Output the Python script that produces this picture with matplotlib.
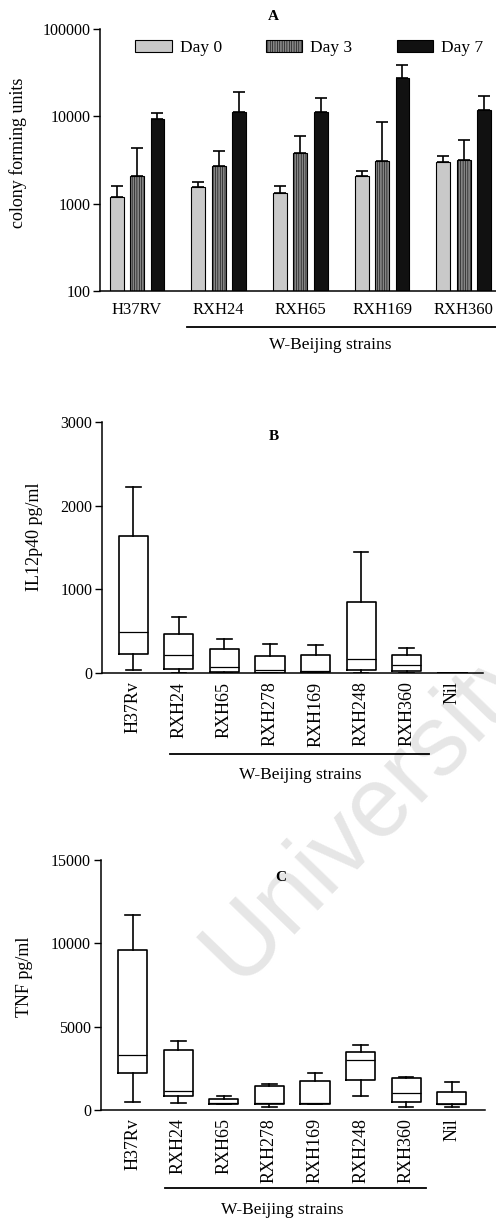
import numpy as np
import matplotlib
matplotlib.use('Agg')
import matplotlib.pyplot as plt
from matplotlib.lines import Line2D

plt.rcParams['font.family'] = 'Liberation Serif'
plt.rcParams['hatch.linewidth'] = 0.4
plt.rcParams['axes.linewidth'] = 1.1

# Panel A: colony forming units per strain, days 0/3/7 (mean, upper error)
strains_a = ['H37RV', 'RXH24', 'RXH65', 'RXH169', 'RXH360']
day0 = [1195, 1550, 1330, 2060, 3030]
day0_err = [1600, 1760, 1580, 2370, 3550]
day3 = [2075, 2720, 3810, 3080, 3190]
day3_err = [4340, 4020, 5910, 8690, 5320]
day7 = [9330, 11140, 11300, 27300, 11750]
day7_err = [10900, 18900, 16400, 38800, 17000]

# Panels B and C: box plot summaries (whisker low, q1, median, q3, whisker high)
strains_bc = ['H37Rv', 'RXH24', 'RXH65', 'RXH278', 'RXH169', 'RXH248', 'RXH360', 'Nil']
il12_low = [36, 8, 0, 0, 0, 8, 8, 0]
il12_q1 = [230, 48, 12, 8, 12, 36, 24, 0]
il12_med = [489, 219, 76, 36, 28, 167, 95, 3]
il12_q3 = [1641, 469, 294, 203, 215, 854, 219, 6]
il12_high = [2221, 676, 409, 346, 338, 1443, 298, 8]

tnf_low = [480, 440, 340, 160, 360, 840, 200, 200]
tnf_q1 = [2220, 860, 380, 360, 380, 1780, 460, 340]
tnf_med = [3320, 1160, 400, 400, 440, 2980, 1040, 380]
tnf_q3 = [9620, 3620, 640, 1420, 1760, 3500, 1940, 1060]
tnf_high = [11720, 4120, 860, 1560, 2220, 3900, 2000, 1700]

fig = plt.figure(figsize=(4.96, 12.19), dpi=100)

# watermark behind everything
fig.text(0.75, 0.336, 'University', family='Liberation Sans', fontsize=72,
         color='#e6e6e6', rotation=46, ha='center', va='center',
         rotation_mode='anchor', zorder=-5)


def strain_bracket(ax, x0, x1, y_line, y_text, x_text, size):
    ax.add_line(Line2D([x0, x1], [y_line, y_line], transform=ax.transAxes,
                       color='black', lw=1.3, clip_on=False))
    ax.text(x_text, y_text, 'W-Beijing strains', transform=ax.transAxes,
            ha='center', va='center', fontsize=size)


# ---------------- Panel A ----------------
axA = fig.add_axes([0.2016, 0.7613, 0.80, 0.2149])
axA.patch.set_alpha(0)
x = np.arange(len(strains_a))
w = 0.17
off = 0.25
series = [(day0, day0_err, '#c9c9c9', '', 'Day 0'),
          (day3, day3_err, '#858585', '|||||||', 'Day 3'),
          (day7, day7_err, '#111111', '', 'Day 7')]
for k, (vals, errs, col, hat, lab) in enumerate(series):
    xs = x + (k - 1) * off
    axA.bar(xs, vals, width=w, color=col, edgecolor='black', linewidth=0.8,
            hatch=hat, label=lab, log=True, zorder=2)
    up = np.array(errs) - np.array(vals)
    axA.errorbar(xs, vals, yerr=[np.zeros(len(vals)), up], fmt='none',
                 ecolor='black', elinewidth=1.2, capsize=4, capthick=1.2, zorder=3)
axA.set_yscale('log')
axA.set_ylim(100, 100000)
axA.set_xlim(-0.454, 4.405)
axA.set_yticks([100, 1000, 10000, 100000])
axA.set_yticklabels(['100', '1000', '10000', '100000'])
axA.minorticks_off()
axA.tick_params(axis='y', direction='out', length=5, width=1, labelsize=11.5, pad=2)
axA.set_xticks(x)
axA.set_xticklabels(strains_a, fontsize=12)
axA.tick_params(axis='x', length=0, pad=8)
axA.spines['top'].set_visible(False)
axA.spines['right'].set_visible(False)
axA.set_ylabel('colony forming units', fontsize=13)
axA.yaxis.set_label_coords(-0.185, 0.529)
axA.text(0.437, 1.046, 'A', transform=axA.transAxes, ha='center', va='center',
         fontsize=11, fontweight='bold')
axA.legend(loc='center', bbox_to_anchor=(0.527, 0.927), ncol=3, frameon=False,
           fontsize=12.5, handlelength=2.1, handleheight=0.65, handletextpad=0.45,
           columnspacing=2.55, borderaxespad=0)
strain_bracket(axA, 0.22, 1.0, -0.137, -0.206, 0.58, 12.5)


def box_panel(rect, lows, q1s, meds, q3s, highs, ylim, yticks, ylabel, letter,
              letter_pos, xlim, bracket, label_xy):
    ax = fig.add_axes(rect)
    ax.patch.set_alpha(0)
    stats = []
    for lo, a, m, b, hi in zip(lows, q1s, meds, q3s, highs):
        stats.append({'whislo': lo, 'q1': a, 'med': m, 'q3': b, 'whishi': hi})
    ax.bxp(stats, positions=np.arange(len(stats)), widths=0.64, showfliers=False,
           boxprops=dict(color='black', linewidth=1.2),
           whiskerprops=dict(color='black', linewidth=1.2),
           capprops=dict(color='black', linewidth=1.2),
           medianprops=dict(color='black', linewidth=0.9))
    ax.set_ylim(*ylim)
    ax.set_xlim(*xlim)
    ax.set_yticks(yticks)
    ax.tick_params(axis='y', direction='out', length=5, width=1, labelsize=11.5, pad=2)
    ax.set_xticks(np.arange(len(strains_bc)))
    ax.set_xticklabels(strains_bc, rotation=90, fontsize=13)
    ax.tick_params(axis='x', length=0, pad=6)
    ax.spines['top'].set_visible(False)
    ax.spines['right'].set_visible(False)
    ax.set_ylabel(ylabel, fontsize=13)
    ax.yaxis.set_label_coords(*label_xy)
    ax.text(letter_pos[0], letter_pos[1], letter, transform=ax.transAxes,
            ha='center', va='center', fontsize=11, fontweight='bold')
    strain_bracket(ax, *bracket, 12.5)
    return ax


axB = box_panel([0.2056, 0.4477, 0.768, 0.2064], il12_low, il12_q1, il12_med,
                il12_q3, il12_high, (0, 3000), [0, 1000, 2000, 3000],
                'IL12p40 pg/ml', 'B', (0.451, 0.939), (-0.686, 7.67),
                (0.178, 0.858, -0.321, -0.404, 0.52), (-0.155, 0.542))

axC = box_panel([0.203, 0.0894, 0.775, 0.2051], tnf_low, tnf_q1, tnf_med,
                tnf_q3, tnf_high, (0, 15000), [0, 5000, 10000, 15000],
                'TNF pg/ml', 'C', (0.469, 0.932), (-0.70, 7.73),
                (0.167, 0.847, -0.312, -0.40, 0.472), (-0.176, 0.532))

fig.savefig('out.png', dpi=100)
